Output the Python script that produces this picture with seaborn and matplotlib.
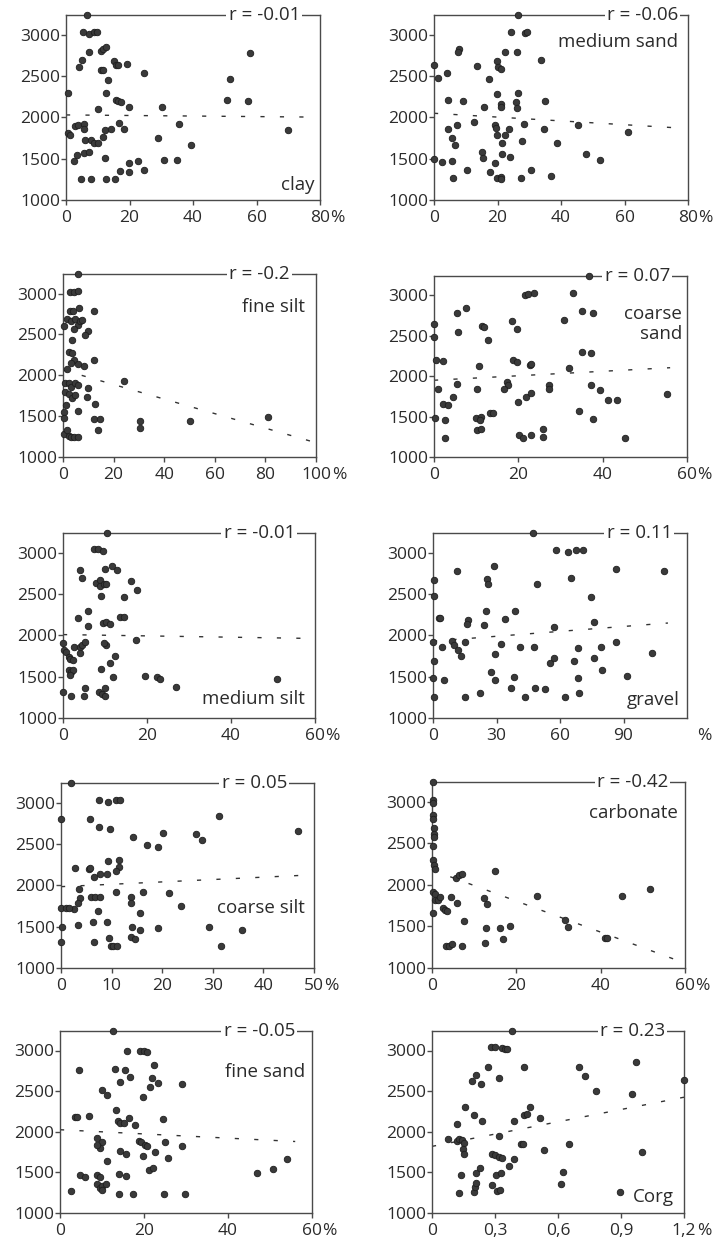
import numpy as np
import pandas as pd
import matplotlib
matplotlib.use("Agg")
import matplotlib.pyplot as plt
import seaborn as sns

sns.set_style("white")
plt.rcParams['font.family'] = ['Open Sans', 'DejaVu Sans']

# ---------------- data ----------------
clay_x = [6.5,5.3,7.2,8.7,9.7,7.4,11,11.8,12.6,5,4,11,11.6,13.2,15,15.8,16.3,19.2,24.7,0.5,12.6,15.6,16.3,17.4,19.8,10,30.2,50.7,51.8,57.4,57.9,69.9,35.6,29,39.5,30.9,35,22.6,19.8,19.8,17,24.7,4.7,7.9,12.6,15.4,12.2,3.4,5.7,7.4,2.4,0.5,1.3,2.9,3.8,5.7,5.7,6.1,7.9,8.9,10,11.8,12.2,14.2,16.8,18.4]
clay_y = [3240,3040,3010,3030,3030,2786,2800,2826,2850,2697,2616,2575,2575,2454,2677,2636,2630,2644,2543,2300,2293,2212,2200,2192,2131,2103,2131,2212,2466,2204,2778,1848,1921,1747,1667,1485,1485,1477,1452,1343,1351,1364,1255,1255,1255,1255,1505,1545,1566,1586,1477,1808,1788,1897,1909,1921,1856,1727,1727,1695,1687,1768,1848,1856,1937,1856]

msand_x = [26.5,24.4,28.6,29.2,7.9,7.5,22.5,26.2,33.6,13.4,19.7,20.2,21,17.3,0,1.4,4,4.5,9,19.9,26.3,21,21,15.7,25.8,26,34.9,12.5,4.3,7.3,19.2,19.4,19.9,22.3,23.5,28.3,34.7,21.5,27.6,38.6,5.8,6.5,15,15.3,21.5,23.8,45.2,47.8,52.4,61.1,0,2.4,5.6,10.3,17.6,19.2,6.1,19.9,21,21,27.3,30.4,36.8]
msand_y = [3240,3032,3020,3032,2826,2786,2798,2786,2697,2628,2677,2616,2584,2462,2636,2483,2543,2212,2200,2285,2301,2160,2123,2123,2192,2111,2200,1949,1856,1909,1909,1868,1788,1788,1856,1921,1856,1695,1719,1695,1747,1667,1586,1505,1553,1517,1909,1558,1485,1820,1493,1456,1473,1364,1343,1452,1263,1263,1283,1255,1263,1364,1291]

fsilt_x = [5.8,2.6,4.5,5.8,6.4,2.9,3.9,12.1,1.6,3.3,4.9,5.8,6.8,7.5,0.3,4.5,9.7,8.8,3.6,2.2,3.6,4.2,3.3,5.8,8.2,12.4,1.6,0.9,2.2,3.3,4.9,5.8,0.9,2.2,3.6,4.9,9.7,9.5,1.3,0.3,0.5,5.8,12.5,12.1,14.7,13.8,0.3,2.2,3.3,4.5,5.9,1.6,24,30.3,30.5,50,81.2]
fsilt_y = [3240,3020,3020,3028,2829,2784,2784,2784,2686,2662,2686,2621,2662,2674,2601,2572,2540,2490,2438,2287,2279,2185,2153,2144,2116,2193,2075,1900,1900,1860,1900,1880,1798,1770,1717,1758,1839,1737,1635,1554,1472,1566,1643,1464,1464,1330,1277,1257,1240,1240,1240,1330,1933,1444,1350,1444,1485]

csand_x = [36.7,21.6,22.2,23.8,32.9,5.4,7.6,35.1,37.6,30.9,0,0,5.6,11.5,11.9,12.8,18.4,19.6,35.1,37.2,0.5,2.2,10.7,18.8,19.6,22.8,23,32.1,5.5,0.9,17.3,17.5,16.6,10.1,27.3,27.2,37.3,39.3,41.2,43.5,55.3,19.9,21.9,23,2.2,3.4,4.4,13.2,14,9.9,11.2,10.9,0.2,2.5,34.3,37.6,10.1,11.2,2.5,20.2,21,23,25.8,25.8,45.4]
csand_y = [3240,3008,3020,3029,3029,2782,2844,2802,2786,2700,2650,2486,2547,2621,2609,2453,2679,2580,2300,2292,2197,2189,2127,2197,2177,2136,2156,2103,1901,1839,1930,1889,1839,1839,1897,1839,1897,1827,1704,1704,1778,1683,1745,1798,1662,1642,1737,1539,1539,1486,1498,1457,1477,1457,1568,1465,1333,1346,1239,1272,1239,1272,1346,1243,1239]

msilt_x = [10.5,7.3,8.3,9.5,4,4.6,10.1,11.7,12.9,7.9,8.7,8.7,9.7,10.3,9.1,16.1,17.5,14.5,3.5,5.9,5.9,9.5,10.3,11.3,13.5,14.5,0,0.2,0.8,1.4,1.7,2.4,2.7,4,4.6,5.3,4.1,1.4,2,2.4,1.6,10.3,9.7,11.2,12.3,9.1,11.8,17.3,19.5,22.4,23,27,50.9,0,2,4.9,5.2,8.5,9.3,10.1,10.1]
msilt_y = [3240,3041,3041,3020,2789,2696,2805,2846,2797,2635,2667,2594,2627,2623,2481,2655,2554,2465,2209,2290,2108,2148,2168,2136,2217,2217,1905,1824,1803,1742,1710,1702,1864,1864,1884,1925,1783,1580,1560,1580,1519,1884,1913,1669,1751,1592,1499,1945,1511,1491,1471,1377,1471,1316,1268,1268,1369,1316,1288,1268,1369]

gravel_x = [47.2,58.1,63.6,67.5,70.9,11.3,28.9,25.3,26.1,48.9,65.2,86.3,109.2,74.5,0.6,0.6,2.7,3.5,25,38.6,16.4,15.9,24.1,33.9,57.3,75.9,0,4.2,8.9,9.7,11.6,13.3,15.2,32.3,29.2,41.2,47.5,68.3,79.2,86.3,103.4,55.3,57.3,66.7,76,0.6,27.2,29.5,80,38.1,37,48,52.7,68.3,91.7,0,5,0.6,15.2,22.2,43.3,62.3,69.1]
gravel_y = [3240,3032,3007,3032,3032,2783,2844,2681,2624,2624,2693,2803,2783,2469,2665,2481,2212,2212,2293,2297,2183,2134,2130,2204,2102,2163,1918,1857,1938,1889,1824,1747,1918,1898,1775,1857,1857,1849,1857,1918,1787,1661,1726,1694,1726,1694,1559,1457,1583,1502,1367,1359,1355,1481,1510,1481,1457,1257,1257,1298,1257,1257,1298]

csilt_x = [2,7.5,9.3,10.9,11.6,0,5.8,7.5,9.6,14.2,20.2,17,19.1,26.6,27.9,31.3,46.9,9.2,11.4,11.4,10.9,2.8,5.5,5.8,6.5,7.7,9,3.6,3.7,3.4,2.6,0,0.9,1.5,3.3,5.9,6.8,7.8,10.8,13.9,13.9,16.2,21.4,23.8,7.3,15.7,6.3,9,14.1,15.7,19.1,29.2,35.8,0.2,0,6.6,9.4,9.8,10.3,11,13.9,14.6,31.7]
csilt_y = [3240,3032,3004,3032,3032,2799,2799,2702,2678,2581,2630,2489,2461,2622,2549,2843,2658,2300,2308,2227,2175,2207,2195,2215,2107,2139,2139,1954,1845,1785,1712,1732,1732,1732,1523,1865,1857,1865,1917,1865,1785,1917,1905,1752,1696,1664,1563,1563,1495,1455,1483,1495,1455,1495,1310,1310,1362,1262,1262,1262,1374,1354,1262]

carb_x = [0.2,0.2,0.3,0.2,0.2,0.4,0.4,0.4,0.2,0.2,0.4,0.6,0.2,0.6,0.6,1.4,2,0.2,2.6,3,3.6,4.4,6,5.8,6.4,7,15,12.4,13.1,24.8,45.1,51.7,7.6,12.8,16.1,18.4,16.9,31.5,32.3,41,41.4,12.5,3.4,4,4.8,7]
carb_y = [3240,3020,2990,2839,2799,2691,2618,2578,2466,2297,2237,2197,1916,1896,1815,1823,1855,1663,1727,1703,1683,1855,1783,2088,2116,2137,2165,1847,1775,1863,1863,1956,1562,1482,1482,1506,1353,1582,1494,1361,1361,1301,1261,1261,1293,1261]

fsand_x = [12.5,16,19,20,20.8,4.5,13,15.4,22.4,16.6,14.4,21.8,21.4,23.4,29,10,11.2,19.7,3.5,4.1,6.8,13.4,13.9,14.4,15.2,16.5,17.8,24.6,8.7,9.9,9.5,8.9,18.9,19.4,20.2,20.8,25.1,29,11.2,14.4,15.7,22.6,19.7,25.8,21.2,22.2,14,15.7,4.7,5.9,8.9,9.5,8.7,9.5,10.1,10.9,9.9,2.7,14.1,17.4,24.8,29.8,46.9,50.8,54]
fsand_y = [3240,3000,3000,2988,2980,2757,2778,2757,2818,2669,2616,2656,2547,2596,2588,2515,2454,2426,2184,2184,2192,2273,2131,2111,2103,2172,2079,2160,1917,1877,1796,1836,1889,1869,1836,1828,1869,1828,1638,1760,1727,1747,1699,1679,1525,1553,1485,1457,1465,1444,1473,1444,1351,1311,1335,1351,1283,1275,1234,1234,1234,1234,1497,1537,1667]

corg_x = [0.383,0.282,0.298,0.332,0.348,0.359,0.269,0.439,0.700,0.728,0.970,0.19,0.21,0.233,0.32,0.779,0.95,1.2,0.158,0.119,0.201,0.24,0.389,0.439,0.451,0.467,0.514,0.076,0.119,0.13,0.142,0.15,0.146,0.15,0.32,0.423,0.432,0.535,0.654,1.0,0.288,0.3,0.317,0.332,0.391,0.367,0.139,0.209,0.23,0.304,0.327,0.625,0.613,0.288,0.309,0.324,0.198,0.203,0.209,0.127,0.897]
corg_y = [3240,3041,3041,3033,3021,3021,2802,2794,2794,2691,2856,2621,2703,2588,2658,2497,2464,2637,2299,2101,2204,2134,2134,2208,2217,2299,2167,1907,1887,1907,1895,1866,1784,1722,1949,1845,1845,1775,1854,1751,1730,1709,1693,1680,1660,1577,1466,1495,1557,1466,1495,1507,1359,1342,1268,1289,1256,1318,1371,1247,1260]

# fitted (dashed) lines: x-range and y at both ends
fit_x = {'clay': [0, 75], 'msand': [0, 75], 'fsilt': [0, 100], 'csand': [0, 56],
         'msilt': [0, 57], 'gravel': [0, 111], 'csilt': [0, 47], 'carb': [0, 57.5],
         'fsand': [0, 56], 'corg': [0, 1.2]}
fit_y = {'clay': [2030, 2005], 'msand': [2050, 1877], 'fsilt': [2065, 1175], 'csand': [1950, 2105],
         'msilt': [2010, 1965], 'gravel': [1930, 2150], 'csilt': [1985, 2120], 'carb': [2180, 1105],
         'fsand': [2025, 1880], 'corg': [1820, 2425]}

r_texts = {'clay': 'r = -0.01', 'msand': 'r = -0.06', 'fsilt': 'r = -0.2', 'csand': 'r = 0.07',
           'msilt': 'r = -0.01', 'gravel': 'r = 0.11', 'csilt': 'r = 0.05', 'carb': 'r = -0.42',
           'fsand': 'r = -0.05', 'corg': 'r = 0.23'}
names = {'clay': 'clay', 'msand': 'medium sand', 'fsilt': 'fine silt', 'csand': 'coarse\nsand',
         'msilt': 'medium silt', 'gravel': 'gravel', 'csilt': 'coarse silt', 'carb': 'carbonate',
         'fsand': 'fine sand', 'corg': 'Corg'}

x_ticks = {'clay': [0, 20, 40, 60, 80], 'msand': [0, 20, 40, 60, 80], 'fsilt': [0, 20, 40, 60, 80, 100],
           'csand': [0, 20, 40, 60], 'msilt': [0, 20, 40, 60], 'gravel': [0, 30, 60, 90],
           'csilt': [0, 10, 20, 30, 40, 50], 'carb': [0, 20, 40, 60], 'fsand': [0, 20, 40, 60],
           'corg': [0, 0.3, 0.6, 0.9, 1.2]}
x_ticklabels = {'clay': ['0', '20', '40', '60', '80'], 'msand': ['0', '20', '40', '60', '80'],
                'fsilt': ['0', '20', '40', '60', '80', '100'], 'csand': ['0', '20', '40', '60'],
                'msilt': ['0', '20', '40', '60'], 'gravel': ['0', '30', '60', '90'],
                'csilt': ['0', '10', '20', '30', '40', '50'], 'carb': ['0', '20', '40', '60'],
                'fsand': ['0', '20', '40', '60'], 'corg': ['0', '0,3', '0,6', '0,9', '1,2']}
x_max = {'clay': 80, 'msand': 80, 'fsilt': 100, 'csand': 60, 'msilt': 60, 'gravel': 120,
         'csilt': 50, 'carb': 60, 'fsand': 60, 'corg': 1.2}
y_ticks = [1000, 1500, 2000, 2500, 3000]
y_ticklabels = ['1000', '1500', '2000', '2500', '3000']

series = {'clay': (clay_x, clay_y), 'msand': (msand_x, msand_y), 'fsilt': (fsilt_x, fsilt_y),
          'csand': (csand_x, csand_y), 'msilt': (msilt_x, msilt_y), 'gravel': (gravel_x, gravel_y),
          'csilt': (csilt_x, csilt_y), 'carb': (carb_x, carb_y), 'fsand': (fsand_x, fsand_y),
          'corg': (corg_x, corg_y)}

# ---------------- layout ----------------
W, H = 715, 1247
# pixel boxes: left, right, top, bottom
boxes = {'clay': (66, 320, 15, 200), 'msand': (434, 688, 15, 200),
         'fsilt': (63, 316, 274, 457), 'csand': (434, 687, 276, 457),
         'msilt': (63, 315, 533, 718), 'gravel': (433, 687, 533, 718),
         'csilt': (61, 314, 783, 968), 'carb': (432, 685, 782, 968),
         'fsand': (60, 312, 1031, 1213), 'corg': (432, 684, 1031, 1213)}
r_pos = {'clay': 0.921, 'msand': 0.961, 'fsilt': 0.897, 'csand': 0.933, 'msilt': 0.921,
         'gravel': 0.941, 'csilt': 0.893, 'carb': 0.933, 'fsand': 0.933, 'corg': 0.925}
name_pos = {'clay': (0.98, 0.081), 'msand': (0.961, 0.854), 'fsilt': (0.957, 0.82),
            'csand': (0.98, 0.737), 'msilt': (0.96, 0.103), 'gravel': (0.972, 0.097),
            'csilt': (0.964, 0.324), 'carb': (0.972, 0.833), 'fsand': (0.972, 0.775),
            'corg': (0.96, 0.088)}
# horizontal offset (points) of the "%" sign after the last tick label
pct_off = {'clay': 7.5, 'msand': 7.5, 'fsilt': 11.5, 'csand': 7.5, 'msilt': 7.5, 'gravel': 7.0,
           'csilt': 7.5, 'carb': 7.5, 'fsand': 7.5, 'corg': 9.5}

INK = '#2b2b2b'
LINE = '#4a4a4a'
FS = 12.5

fig = plt.figure(figsize=(W / 100, H / 100), dpi=100)
fig.patch.set_facecolor('white')

for key, (l, r, t, b) in boxes.items():
    ax = fig.add_axes([l / W, 1 - b / H, (r - l) / W, (b - t) / H])
    xs, ys = series[key]
    df = pd.DataFrame({'x': xs, 'y': ys})
    sns.lineplot(x=fit_x[key], y=fit_y[key], ax=ax, color='#333333', linewidth=1.0,
                 linestyle=(0, (3, 11)), errorbar=None, zorder=2)
    sns.scatterplot(data=df, x='x', y='y', ax=ax, s=22, color='#3a3a3a', edgecolor='#1e1e1e',
                    linewidth=0.6, clip_on=False, zorder=3)
    ax.set_xlim(0, x_max[key])
    ax.set_ylim(1000, 3240)
    ax.set_xticks(x_ticks[key])
    ax.set_xticklabels(x_ticklabels[key])
    ax.set_yticks(y_ticks)
    ax.set_yticklabels(y_ticklabels)
    ax.set_xlabel('')
    ax.set_ylabel('')
    for sp in ax.spines.values():
        sp.set_visible(True)
        sp.set_color(LINE)
        sp.set_linewidth(1.0)
    ax.tick_params(axis='both', which='both', direction='out', length=3.5, width=1.0,
                   color=LINE, labelsize=FS, labelcolor=INK)
    ax.tick_params(axis='y', pad=0.5, left=True)
    ax.tick_params(axis='x', pad=4, bottom=True)
    # percent sign after the last x tick label
    ax.annotate('%', xy=(1, 0), xycoords='axes fraction', xytext=(pct_off[key], -7.5),
                textcoords='offset points', ha='left', va='top', fontsize=FS, color=INK)
    # r value breaking the top frame
    ax.text(r_pos[key], 1.0, r_texts[key], transform=ax.transAxes, ha='right', va='center',
            fontsize=FS + 1, color=INK, zorder=5,
            bbox=dict(boxstyle='square,pad=0.12', fc='white', ec='none'))
    nx, ny = name_pos[key]
    ax.text(nx, ny, names[key], transform=ax.transAxes, ha='right', va='center',
            fontsize=FS + 1, color=INK, linespacing=1.15, zorder=5)

fig.savefig('out.png', dpi=100, facecolor='white')
